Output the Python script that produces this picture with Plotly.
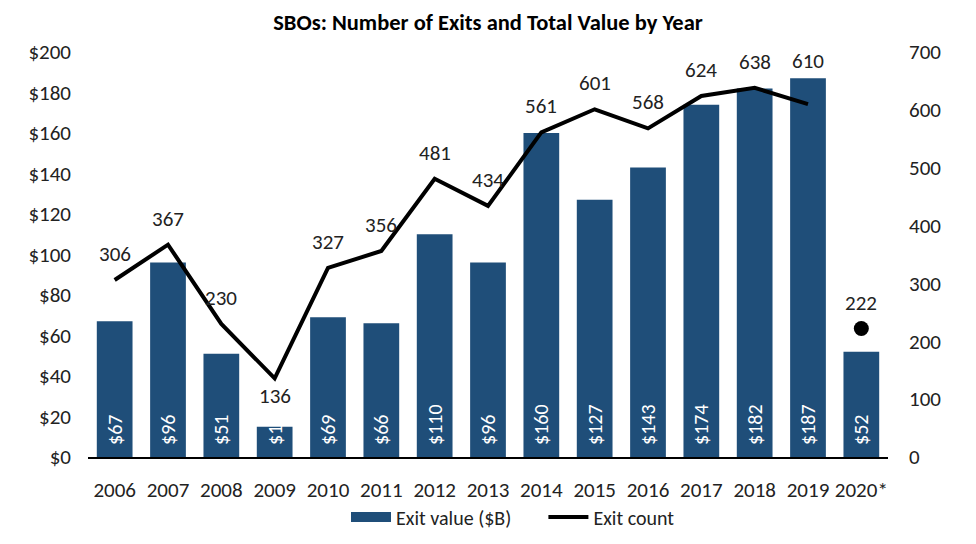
import plotly.graph_objects as go

years = ["2006", "2007", "2008", "2009", "2010", "2011", "2012", "2013",
         "2014", "2015", "2016", "2017", "2018", "2019", "2020*"]
exit_value = [67, 96, 51, 15, 69, 66, 110, 96, 160, 127, 143, 174, 182, 187, 52]
exit_count = [306, 367, 230, 136, 327, 356, 481, 434, 561, 601, 568, 624, 638, 610, 222]

left_ticks = [0, 20, 40, 60, 80, 100, 120, 140, 160, 180, 200]
right_ticks = [0, 100, 200, 300, 400, 500, 600, 700]

FONT = "Carlito, Lato, sans-serif"
BAR = "#1F4E79"
TXT = "#222222"
PAD = "\u00a0" * 6

# page body has an 8px default margin; size the figure so it fills the window
W, H = 968, 536

fig = go.Figure()
fig.add_trace(go.Bar(
    x=years, y=exit_value, name="Exit value ($B)", showlegend=False,
    marker=dict(color=BAR, line=dict(width=0)),
    text=["\u00a0\u00a0$" + str(v) for v in exit_value],
    textposition="inside", insidetextanchor="start", textangle=-90,
    constraintext="none", cliponaxis=False,
    textfont=dict(color="white", size=20, family=FONT),
    yaxis="y",
))
# legend proxy for the bar series (wide rectangular swatch)
fig.add_trace(go.Scatter(
    x=[None], y=[None], name="Exit value ($B)" + PAD, mode="lines",
    line=dict(color=BAR, width=11), yaxis="y",
))
fig.add_trace(go.Scatter(
    x=years[:-1], y=exit_count[:-1], name="Exit count", mode="lines",
    line=dict(color="black", width=4), yaxis="y2",
))
fig.add_trace(go.Scatter(
    x=years[-1:], y=exit_count[-1:], mode="markers", showlegend=False,
    marker=dict(color="black", size=15), yaxis="y2",
))

# label placement (style): most labels above the point, a couple adjusted
label_shift = {"2009": -18, "2019": 43}
for i, (yr, c) in enumerate(zip(years, exit_count)):
    fig.add_annotation(
        x=i, xref="x", y=c, yref="y2", text=str(c), showarrow=False,
        yshift=label_shift.get(yr, 26),
        font=dict(size=21, color=TXT, family=FONT),
    )

fig.update_layout(
    template="none",
    width=W, height=H,
    margin=dict(l=80, r=88, t=44, b=87, autoexpand=False),
    paper_bgcolor="white", plot_bgcolor="white",
    title=dict(text="<b>SBOs: Number of Exits and Total Value by Year</b>",
               x=0.5, xanchor="center", xref="paper",
               y=1 - 14 / H, yanchor="middle", yref="container",
               font=dict(size=22.5, color="black", family=FONT)),
    bargap=0.33,
    showlegend=True,
    legend=dict(orientation="h", x=505 / W, xanchor="center", xref="container",
                y=1 - 509 / H, yanchor="middle", yref="container",
                font=dict(size=20, color=TXT, family=FONT),
                bgcolor="rgba(0,0,0,0)", borderwidth=0,
                itemwidth=40, tracegroupgap=0),
    xaxis=dict(type="category", range=[-0.5, len(years) - 0.5], automargin=False,
               showline=True, linecolor="black", linewidth=1.5, zeroline=False,
               ticks="", ticklabelstandoff=13, showgrid=False,
               tickfont=dict(size=21, color=TXT, family=FONT)),
    yaxis=dict(range=[0, 200], tickvals=left_ticks, automargin=False,
               ticktext=["$" + str(t) for t in left_ticks],
               showgrid=False, zeroline=False, showline=False, ticks="", ticklabelstandoff=16,
               tickfont=dict(size=21, color=TXT, family=FONT)),
    yaxis2=dict(range=[0, 700], tickvals=right_ticks, overlaying="y", side="right",
                automargin=False, showline=False,
                showgrid=False, zeroline=False, ticks="", ticklabelstandoff=20,
                tickfont=dict(size=21, color=TXT, family=FONT)),
)

fig.write_html("out.html")
